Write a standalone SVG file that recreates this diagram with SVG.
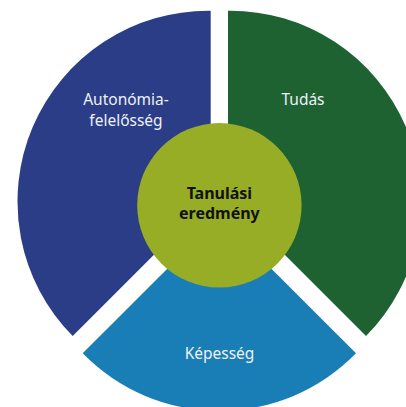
<svg xmlns="http://www.w3.org/2000/svg" width="406" height="407" viewBox="0 0 406 407">
<style>
.lbl{font-family:"Noto Sans","Open Sans","DejaVu Sans",sans-serif;font-size:15.5px;fill:#EEF1F7;text-anchor:middle}
.ctr{font-family:"Noto Sans","Open Sans","DejaVu Sans",sans-serif;font-size:16px;font-weight:bold;fill:#111111;text-anchor:middle}
</style>
<rect width="406" height="407" fill="#FFFFFF"/>
<g id="autonomia">
<path d="M210.7,198 L210.7,10.7 A191,191 0 0 0 72.7,336 Z" fill="#2B3D86"/>
<text class="lbl" x="126" y="104.5">Autonómia-</text>
<text class="lbl" x="126" y="125.5">felelősség</text>
</g>
<g id="tudas">
<path d="M228,198 L228,10.7 A191,191 0 0 1 366,336 Z" fill="#1E6232"/>
<text class="lbl" x="303" y="104.5">Tudás</text>
</g>
<g id="kepesseg">
<path d="M219.35,216.65 L82.7,353.3 A191,191 0 0 0 356,353.3 Z" fill="#1A7EB6"/>
<text class="lbl" x="219.5" y="358.5">Képesség</text>
</g>
<g id="tanulasi">
<circle cx="219.4" cy="205.3" r="82.2" fill="#97AD26"/>
<text class="ctr" x="219.4" y="198.5">Tanulási</text>
<text class="ctr" x="219.4" y="218.5">eredmény</text>
</g>
</svg>
